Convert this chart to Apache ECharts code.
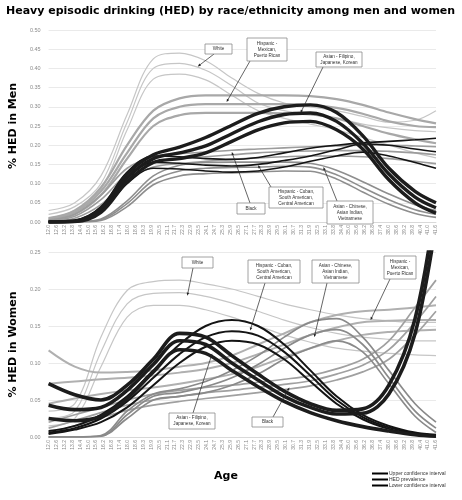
<!DOCTYPE html>
<html><head><meta charset="utf-8">
<script src="https://cdn.jsdelivr.net/npm/echarts@6/dist/echarts.min.js"></script>
<style>html,body{margin:0;padding:0;background:#fff}#c{width:462px;height:500px}</style>
</head><body><div id="c"></div>
<script>
// ---- DATA ----
const ageTicks = ['12.0','12.6','13.2','13.8','14.4','15.0','15.6','16.2','16.8','17.4','18.0','18.6','19.3','19.9','20.5','21.1','21.7','22.3','22.9','23.5','24.1','24.7','25.3','25.9','26.5','27.1','27.7','28.3','28.9','29.5','30.1','30.7','31.3','31.9','32.5','33.1','33.8','34.4','35.0','35.6','36.2','36.8','37.4','38.0','38.6','39.2','39.8','40.4','41.0','41.6'];
const ages = [12,14,16,18,20,22,24,26,28,30,32,34,36,38,40,41.6];

// Men
const menWhiteU = [0.03,0.05,0.12,0.28,0.425,0.44,0.42,0.375,0.335,0.31,0.3,0.29,0.275,0.26,0.265,0.29];
const menWhiteM = [0.02,0.04,0.1,0.26,0.4,0.413,0.395,0.355,0.31,0.29,0.28,0.27,0.255,0.245,0.238,0.235];
const menWhiteL = [0.01,0.03,0.085,0.24,0.372,0.385,0.37,0.33,0.29,0.27,0.255,0.24,0.22,0.2,0.18,0.167];
const menHispMexU = [0.01,0.03,0.09,0.2,0.29,0.322,0.33,0.33,0.33,0.33,0.328,0.32,0.305,0.285,0.268,0.257];
const menHispMexM = [0.008,0.025,0.08,0.18,0.27,0.3,0.307,0.307,0.307,0.307,0.305,0.297,0.282,0.262,0.25,0.247];
const menHispMexL = [0.005,0.02,0.07,0.165,0.25,0.278,0.284,0.284,0.284,0.283,0.28,0.27,0.25,0.23,0.215,0.205];
const menBlackU = [0.005,0.02,0.07,0.14,0.17,0.178,0.182,0.187,0.19,0.193,0.196,0.198,0.2,0.2,0.198,0.196];
const menBlackM = [0.003,0.015,0.058,0.125,0.157,0.165,0.17,0.175,0.18,0.183,0.185,0.186,0.186,0.184,0.18,0.175];
const menBlackL = [0.002,0.01,0.045,0.11,0.143,0.152,0.158,0.163,0.167,0.17,0.172,0.172,0.17,0.165,0.158,0.152];
const menChineseU = [0,0.001,0.008,0.055,0.12,0.148,0.155,0.156,0.156,0.156,0.153,0.135,0.105,0.073,0.045,0.03];
const menChineseM = [0,0.001,0.006,0.048,0.108,0.133,0.14,0.142,0.143,0.145,0.143,0.123,0.09,0.058,0.032,0.02];
const menChineseL = [0,0,0.004,0.04,0.097,0.12,0.126,0.128,0.13,0.133,0.132,0.112,0.078,0.046,0.022,0.012];
const menCubanU = [0,0.004,0.04,0.13,0.172,0.17,0.165,0.163,0.168,0.18,0.192,0.2,0.206,0.21,0.214,0.218];
const menCubanM = [0,0.003,0.033,0.115,0.155,0.153,0.148,0.146,0.15,0.16,0.172,0.188,0.203,0.2,0.19,0.183];
const menCubanL = [0,0.002,0.027,0.1,0.14,0.138,0.133,0.13,0.133,0.143,0.158,0.172,0.182,0.172,0.155,0.14];
const menFilipinoU = [0,0.003,0.035,0.125,0.175,0.195,0.22,0.252,0.283,0.3,0.305,0.285,0.225,0.14,0.08,0.05];
const menFilipinoM = [0,0.002,0.03,0.115,0.165,0.18,0.198,0.23,0.261,0.28,0.284,0.262,0.205,0.125,0.065,0.037];
const menFilipinoL = [0,0.001,0.025,0.105,0.155,0.165,0.18,0.21,0.24,0.258,0.262,0.24,0.19,0.11,0.05,0.023];

// Women
const womenWhiteU = [0.035,0.045,0.135,0.198,0.21,0.212,0.207,0.2,0.19,0.18,0.172,0.165,0.16,0.157,0.155,0.155];
const womenWhiteM = [0.025,0.035,0.115,0.18,0.194,0.195,0.19,0.181,0.17,0.158,0.148,0.14,0.135,0.132,0.13,0.13];
const womenWhiteL = [0.015,0.025,0.095,0.162,0.178,0.178,0.172,0.162,0.15,0.138,0.128,0.12,0.116,0.113,0.111,0.11];
const womenHispMexU = [0.117,0.095,0.087,0.088,0.09,0.095,0.1,0.11,0.125,0.14,0.155,0.165,0.17,0.172,0.175,0.178];
const womenHispMexM = [0.072,0.075,0.078,0.08,0.083,0.087,0.092,0.1,0.112,0.125,0.138,0.148,0.155,0.157,0.158,0.158];
const womenHispMexL = [0.045,0.052,0.058,0.063,0.067,0.072,0.078,0.085,0.095,0.108,0.12,0.13,0.138,0.142,0.144,0.145];
const womenBlackU = [0.02,0.03,0.04,0.05,0.058,0.063,0.067,0.07,0.074,0.078,0.083,0.092,0.105,0.13,0.175,0.212];
const womenBlackM = [0.012,0.022,0.033,0.043,0.05,0.055,0.06,0.063,0.067,0.071,0.076,0.085,0.097,0.118,0.155,0.19];
const womenBlackL = [0.005,0.015,0.026,0.036,0.043,0.048,0.052,0.056,0.06,0.064,0.069,0.077,0.088,0.105,0.138,0.17];
const womenChineseU = [0,0,0.002,0.035,0.058,0.065,0.075,0.09,0.11,0.135,0.155,0.16,0.135,0.09,0.045,0.02];
const womenChineseM = [0,0,0.001,0.03,0.055,0.06,0.068,0.08,0.098,0.12,0.138,0.145,0.125,0.08,0.035,0.012];
const womenChineseL = [0,0,0.001,0.025,0.05,0.055,0.06,0.07,0.085,0.105,0.12,0.13,0.115,0.072,0.028,0.006];
const womenCubanU = [0.008,0.015,0.03,0.055,0.09,0.125,0.15,0.158,0.15,0.125,0.09,0.055,0.03,0.015,0.006,0.003];
const womenCubanM = [0.006,0.012,0.025,0.048,0.08,0.112,0.135,0.143,0.137,0.115,0.083,0.05,0.027,0.013,0.005,0.002];
const womenCubanL = [0.004,0.01,0.02,0.04,0.07,0.1,0.122,0.13,0.125,0.105,0.075,0.045,0.024,0.011,0.004,0.001];
const womenFilipinoU = [0.072,0.057,0.05,0.07,0.105,0.14,0.135,0.11,0.085,0.062,0.045,0.036,0.038,0.07,0.16,0.32];
const womenFilipinoM = [0.043,0.037,0.04,0.063,0.098,0.13,0.125,0.1,0.077,0.055,0.04,0.031,0.032,0.058,0.14,0.29];
const womenFilipinoL = [0.025,0.022,0.028,0.052,0.088,0.118,0.113,0.09,0.068,0.048,0.033,0.022,0.014,0.008,0.003,0.001];

const ciNames = ['Upper confidence interval','HED prevalence','Lower confidence interval'];

// ---- STYLES ----
const menGroups = [
  {u:menWhiteU,m:menWhiteM,l:menWhiteL,color:'#c6c6c6',width:1.2},
  {u:menHispMexU,m:menHispMexM,l:menHispMexL,color:'#a8a8a8',width:2.2},
  {u:menBlackU,m:menBlackM,l:menBlackL,color:'#9c9c9c',width:1.6},
  {u:menChineseU,m:menChineseM,l:menChineseL,color:'#8e8e8e',width:1.6},
  {u:menCubanU,m:menCubanM,l:menCubanL,color:'#141414',width:1.6},
  {u:menFilipinoU,m:menFilipinoM,l:menFilipinoL,color:'#1c1c1c',width:3.4}
];
const womenGroups = [
  {u:womenWhiteU,m:womenWhiteM,l:womenWhiteL,color:'#c6c6c6',width:1.2},
  {u:womenHispMexU,m:womenHispMexM,l:womenHispMexL,color:'#b0b0b0',width:2},
  {u:womenBlackU,m:womenBlackM,l:womenBlackL,color:'#a0a0a0',width:1.7},
  {u:womenChineseU,m:womenChineseM,l:womenChineseL,color:'#8a8a8a',width:1.7},
  {u:womenCubanU,m:womenCubanM,l:womenCubanL,color:'#141414',width:2},
  {u:womenFilipinoU,m:womenFilipinoM,l:womenFilipinoL,color:'#1c1c1c',width:3.6}
];

const FONT = "'Liberation Sans', Arial, sans-serif";
const series = [];
function addGroups(groups, panel){
  groups.forEach((g, gi) => {
    [g.u, g.m, g.l].forEach((vals, k) => {
      series.push({
        type:'line', name: ciNames[k], xAxisIndex: panel*2+1, yAxisIndex: panel,
        data: ages.map((a,i)=>[a, vals[i]]),
        smooth: 0.35, showSymbol:false, symbol:'none', silent:true,
        lineStyle:{color:g.color, width:g.width}, itemStyle:{color:g.color},
        z: 2+gi, animation:false, clip:true
      });
    });
  });
}
addGroups(menGroups, 0);
addGroups(womenGroups, 1);

function catAxis(gi){
  return {gridIndex:gi, type:'category', data:ageTicks, boundaryGap:false,
    axisLabel:{rotate:90, interval:0, fontSize:5, color:'#8a8a8a', margin:3, fontFamily:FONT},
    axisTick:{show:false}, axisLine:{lineStyle:{color:'#d4d4d4', width:0.8}}, splitLine:{show:false}};
}
function valAxis(gi){ return {gridIndex:gi, type:'value', min:12, max:41.6, show:false}; }
function yAxis(gi, max, name){
  return {gridIndex:gi, type:'value', min:0, max:max, interval:0.05,
    axisLabel:{fontSize:5.5, color:'#8a8a8a', margin:8, fontFamily:FONT, formatter:v=>v.toFixed(2)},
    axisLine:{show:false}, axisTick:{show:false},
    splitLine:{lineStyle:{color:'#e4e4e4', width:0.8}},
    name:name, nameLocation:'middle', nameGap:24,
    nameTextStyle:{fontSize:11, fontWeight:'bold', color:'#000', fontFamily:"'DejaVu Sans', sans-serif"}};
}

const chart = echarts.init(document.getElementById('c'), null, {renderer:'canvas'});
chart.setOption({
  animation:false,
  backgroundColor:'#fff',
  title:[
    {text:'Heavy episodic drinking (HED) by race/ethnicity among men and women', left:6, top:6, padding:0,
     textStyle:{fontSize:11, fontWeight:'bold', color:'#000', fontFamily:"'DejaVu Sans', sans-serif"}},
    {text:'Age', left:214, top:471, padding:0, textStyle:{fontSize:11, fontWeight:'bold', color:'#000', fontFamily:"'DejaVu Sans', sans-serif"}}
  ],
  legend:{orient:'vertical', left:372, top:471, itemWidth:16, itemHeight:2, itemGap:1, icon:'rect', padding:0,
    selectedMode:false,
    textStyle:{fontSize:5, color:'#333', fontFamily:FONT, padding:[0,0,0,-4]},
    itemStyle:{color:'#000', borderWidth:0},
    data:ciNames.map(n=>({name:n, itemStyle:{color:'#000'}}))},
  grid:[
    {left:40, right:26, top:30, height:192},
    {left:40, right:26, top:252, height:185}
  ],
  xAxis:[catAxis(0), valAxis(0), catAxis(1), valAxis(1)],
  yAxis:[yAxis(0, 0.5, '% HED in Men'), yAxis(1, 0.25, '% HED in Women')],
  series:series
});

// ---- Annotations (box layout in px, target in data space) ----
const notes = [
  {p:0, text:'White', box:[205,44,27,10], from:[214,54], age:23.4, v:0.405},
  {p:0, text:'Hispanic -\nMexican,\nPuerto Rican', box:[247,38,40,23], from:[250,61], age:25.6, v:0.3125},
  {p:0, text:'Asian - Filipino,\nJapanese, Korean', box:[316,52,46,15], from:[323,67], age:31.25, v:0.284},
  {p:0, text:'Black', box:[237,203,28,11], from:[250,203], age:26.0, v:0.182},
  {p:0, text:'Hispanic - Cuban,\nSouth American,\nCentral American', box:[269,187,54,21], from:[271,187], age:28.0, v:0.148},
  {p:0, text:'Asian - Chinese,\nAsian Indian,\nVietnamese', box:[327,201,46,23], from:[337,201], age:33.0, v:0.143},
  {p:1, text:'White', box:[182,257,31,11], from:[193,268], age:22.6, v:0.191},
  {p:1, text:'Hispanic - Cuban,\nSouth American,\nCentral American', box:[248,260,52,23], from:[265,283], age:27.4, v:0.144},
  {p:1, text:'Asian - Chinese,\nAsian Indian,\nVietnamese', box:[312,260,47,23], from:[327,283], age:32.3, v:0.135},
  {p:1, text:'Hispanic -\nMexican,\nPuerto Rican', box:[384,256,32,23], from:[390,279], age:36.6, v:0.158},
  {p:1, text:'Asian - Filipino,\nJapanese, Korean', box:[169,413,46,16], from:[193,413], age:24.5, v:0.113},
  {p:1, text:'Black', box:[252,417,31,10], from:[273,417], age:30.4, v:0.067}
];
const gfx = [];
notes.forEach(n=>{
  const pt = chart.convertToPixel({xAxisIndex:n.p*2+1, yAxisIndex:n.p}, [n.age, n.v]);
  const [x0,y0] = n.from, x1 = pt[0], y1 = pt[1];
  const dx = x1-x0, dy = y1-y0, L = Math.sqrt(dx*dx+dy*dy)||1, ux=dx/L, uy=dy/L;
  const ah = 3, aw = 1.3;
  gfx.push({type:'line', z:100, shape:{x1:x0,y1:y0,x2:x1-ux*ah*0.8,y2:y1-uy*ah*0.8}, style:{stroke:'#222', lineWidth:0.7}});
  gfx.push({type:'polygon', z:100, shape:{points:[[x1,y1],[x1-ux*ah-uy*aw, y1-uy*ah+ux*aw],[x1-ux*ah+uy*aw, y1-uy*ah-ux*aw]]}, style:{fill:'#222'}});
  const [bx,by,bw,bh] = n.box;
  gfx.push({type:'rect', z:101, shape:{x:bx,y:by,width:bw,height:bh}, style:{fill:'#fff', stroke:'#8c8c8c', lineWidth:0.8}});
  gfx.push({type:'text', z:102, x:bx+bw/2, y:by+bh/2, style:{text:n.text, fontSize:4.6, lineHeight:6.2, fill:'#333', align:'center', verticalAlign:'middle', fontFamily:FONT}});
});
chart.setOption({graphic:gfx});
</script></body></html>
